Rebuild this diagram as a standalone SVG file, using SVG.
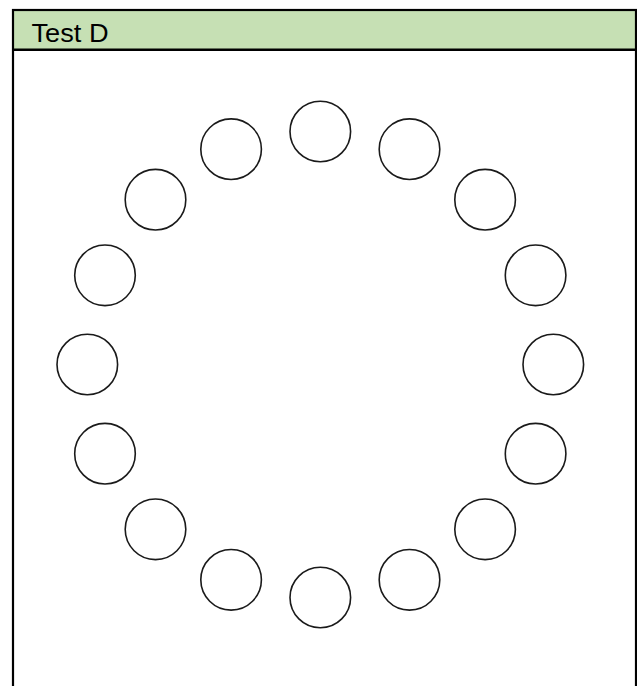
<svg xmlns="http://www.w3.org/2000/svg" width="637" height="686" viewBox="0 0 637 686">
  <style>
    .seat { fill: #ffffff; stroke: #1a1a1a; stroke-width: 1.6; }
    .frame { fill: none; stroke: #000000; stroke-width: 2.2; }
    .title { font-family: "Liberation Sans", Arial, sans-serif; font-size: 26px; fill: #000000; }
  </style>
  <rect x="0" y="0" width="637" height="686" fill="#ffffff"/>
  <g id="header">
    <rect x="13" y="10" width="623" height="39.5" fill="#c6e0b4"/>
    <line x1="13" y1="49.7" x2="636" y2="49.7" stroke="#000" stroke-width="2.6"/>
    <text class="title" x="31.5" y="41.5" textLength="77" lengthAdjust="spacingAndGlyphs">Test D</text>
  </g>
  <rect id="frame" class="frame" x="13" y="10" width="623" height="700"/>
  <g id="connectors"></g>
  <g id="ring" transform="translate(320.3 364.5)">
    <g id="c0"><circle class="seat" cx="0" cy="-233" r="30.3"/></g>
    <g id="c1"><circle class="seat" cx="89.2" cy="-215.3" r="30.3"/></g>
    <g id="c2"><circle class="seat" cx="164.8" cy="-164.8" r="30.3"/></g>
    <g id="c3"><circle class="seat" cx="215.3" cy="-89.2" r="30.3"/></g>
    <g id="c4"><circle class="seat" cx="233" cy="0" r="30.3"/></g>
    <g id="c5"><circle class="seat" cx="215.3" cy="89.2" r="30.3"/></g>
    <g id="c6"><circle class="seat" cx="164.8" cy="164.8" r="30.3"/></g>
    <g id="c7"><circle class="seat" cx="89.2" cy="215.3" r="30.3"/></g>
    <g id="c8"><circle class="seat" cx="0" cy="233" r="30.3"/></g>
    <g id="c9"><circle class="seat" cx="-89.2" cy="215.3" r="30.3"/></g>
    <g id="c10"><circle class="seat" cx="-164.8" cy="164.8" r="30.3"/></g>
    <g id="c11"><circle class="seat" cx="-215.3" cy="89.2" r="30.3"/></g>
    <g id="c12"><circle class="seat" cx="-233" cy="0" r="30.3"/></g>
    <g id="c13"><circle class="seat" cx="-215.3" cy="-89.2" r="30.3"/></g>
    <g id="c14"><circle class="seat" cx="-164.8" cy="-164.8" r="30.3"/></g>
    <g id="c15"><circle class="seat" cx="-89.2" cy="-215.3" r="30.3"/></g>
  </g>
</svg>
